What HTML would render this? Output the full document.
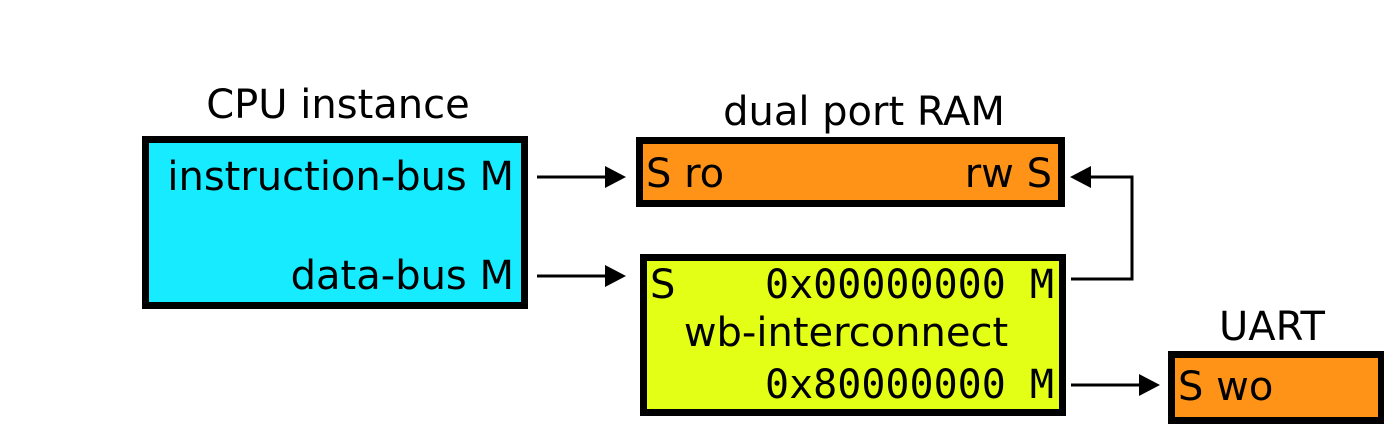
<!DOCTYPE html>
<html><head><meta charset="utf-8"><style>html,body{margin:0;padding:0;background:#fff}</style></head>
<body>
<svg width="1384" height="425" xmlns="http://www.w3.org/2000/svg" font-family="'DejaVu Sans','Liberation Sans',sans-serif">
<rect x="145.5" y="139.5" width="379" height="166" fill="#16ebff" stroke="#000" stroke-width="7"/>
<text x="338" y="118" font-size="40" text-anchor="middle">CPU instance</text>
<text x="514" y="190" font-size="40" text-anchor="end">instruction-bus M</text>
<text x="514" y="289" font-size="40" text-anchor="end">data-bus M</text>

<rect x="639.5" y="140.5" width="422" height="63" fill="#ff9318" stroke="#000" stroke-width="7"/>
<text x="864" y="125" font-size="40" text-anchor="middle">dual port RAM</text>
<text x="646" y="187" font-size="40">S ro</text>
<text x="1052" y="187" font-size="40" text-anchor="end">rw S</text>

<rect x="643.5" y="257.5" width="419" height="155" fill="#e4ff16" stroke="#000" stroke-width="7"/>
<text x="650" y="298" font-size="40">S</text>
<text x="1054" y="298" font-size="40" text-anchor="end" font-family="'DejaVu Sans Mono','Liberation Mono',monospace">0x00000000 M</text>
<text x="846" y="346" font-size="40" text-anchor="middle">wb-interconnect</text>
<text x="1054" y="398" font-size="40" text-anchor="end" font-family="'DejaVu Sans Mono','Liberation Mono',monospace">0x80000000 M</text>

<rect x="1171.5" y="354.5" width="210" height="66" fill="#ff9318" stroke="#000" stroke-width="7"/>
<text x="1272" y="340" font-size="40" text-anchor="middle">UART</text>
<text x="1178" y="400" font-size="40">S wo</text>

<g stroke="#000" stroke-width="3" fill="none">
<line x1="537" y1="177" x2="608" y2="177"/>
<line x1="537" y1="276" x2="608" y2="276"/>
<polyline points="1071,279 1132,279 1132,177 1088,177"/>
<line x1="1071" y1="385" x2="1142" y2="385"/>
</g>
<g fill="#000">
<polygon points="605,166 626,177 605,188"/>
<polygon points="605,265 626,276 605,287"/>
<polygon points="1091,166 1070,177 1091,188"/>
<polygon points="1139,374 1160,385 1139,396"/>
</g>
</svg>
</body></html>
